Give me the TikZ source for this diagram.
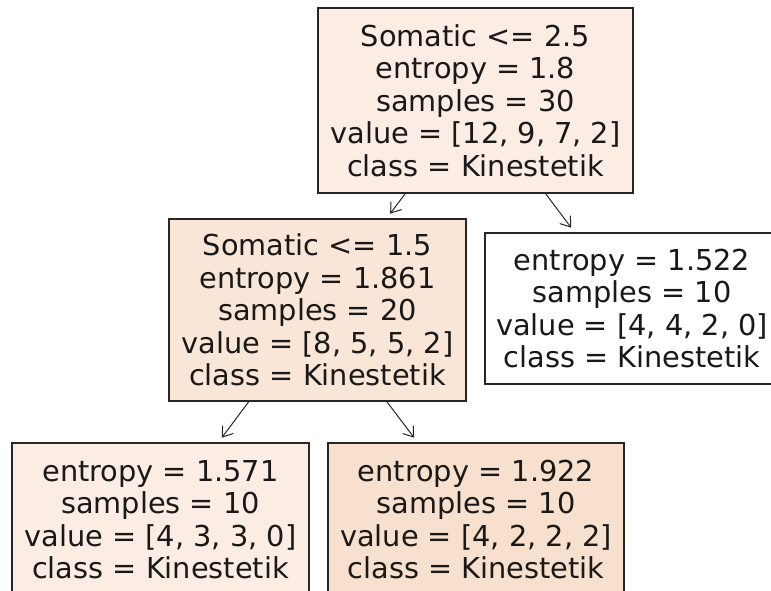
\documentclass[tikz,border=0pt]{standalone}
\usepackage{fontspec}
\setmainfont{DejaVu Sans}
\usetikzlibrary{arrows.meta}
\definecolor{cA}{HTML}{FBEDE3}
\definecolor{cB}{HTML}{FAE6D7}
\definecolor{cC}{HTML}{F8E0CE}
\tikzset{
  treebox/.style={draw=black!85, line width=0.9pt, rectangle, align=center, inner sep=0pt, outer sep=0pt,
    font=\fontsize{21.6pt}{24.4pt}\selectfont, text=black!90},
  treearrow/.style={draw=black!85, line width=0.75pt, -{Straight Barb[length=7pt,width=10pt,line width=0.75pt]}, shorten >=5pt}
}
\begin{document}
\begin{tikzpicture}[x=0.75pt,y=-0.75pt]
\clip (0,0) rectangle (771,590);
\fill[white] (0,0) rectangle (771,590);
\node[treebox, fill=cA, minimum width={315*0.75pt}, minimum height={185*0.75pt}] (root) at (475.5,100.5)
  {Somatic <= 2.5\\entropy = 1.8\\samples = 30\\value = [12, 9, 7, 2]\\class = Kinestetik};
\node[treebox, fill=cB, minimum width={297*0.75pt}, minimum height={182*0.75pt}] (left) at (317.5,310)
  {Somatic <= 1.5\\entropy = 1.861\\samples = 20\\value = [8, 5, 5, 2]\\class = Kinestetik};
\node[treebox, fill=white, minimum width={294*0.75pt}, minimum height={151*0.75pt}] (right) at (632,308.5)
  {entropy = 1.522\\samples = 10\\value = [4, 4, 2, 0]\\class = Kinestetik};
\node[treebox, fill=cA, minimum width={297*0.75pt}, minimum height={153*0.75pt}] (ll) at (160.5,519.5)
  {entropy = 1.571\\samples = 10\\value = [4, 3, 3, 0]\\class = Kinestetik};
\node[treebox, fill=cC, minimum width={296*0.75pt}, minimum height={153*0.75pt}] (lr) at (476,519.5)
  {entropy = 1.922\\samples = 10\\value = [4, 2, 2, 2]\\class = Kinestetik};
\draw[treearrow] (root) -- (left);
\draw[treearrow] (root) -- (right);
\draw[treearrow] (left) -- (ll);
\draw[treearrow] (left) -- (lr);
\end{tikzpicture}
\end{document}
